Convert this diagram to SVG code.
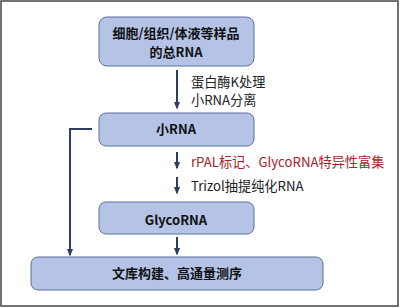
<svg xmlns="http://www.w3.org/2000/svg" width="400" height="308" viewBox="0 0 400 308">
<defs>
<style>
.box{fill:#b4c3e6;stroke:#5d6f96;stroke-width:1}
.t{font-family:"Noto Sans CJK SC","Noto Sans",sans-serif;font-size:13px;fill:#111;text-anchor:middle;font-weight:bold}
.l{font-family:"Noto Sans CJK SC","Noto Sans",sans-serif;font-size:13.2px;fill:#222}
.red{fill:#a82226}
.c{fill:none;stroke:#2f3c64;stroke-width:2}
</style>
<marker id="ah" viewBox="0 0 10 10" refX="8" refY="5" markerWidth="4" markerHeight="4" orient="auto" markerUnits="strokeWidth">
<path d="M0,1 L10,5 L0,9 z" fill="#2f3c64"/>
</marker>
</defs>
<rect x="0" y="0" width="400" height="308" fill="#fff"/>
<rect x="1" y="1" width="397" height="305" fill="none" stroke="#444" stroke-width="1.5"/>
<g id="connectors">
<line class="c" x1="177" y1="70" x2="177" y2="108" marker-end="url(#ah)"/>
<line class="c" x1="177" y1="152" x2="177" y2="168" marker-end="url(#ah)"/>
<line class="c" x1="177" y1="177" x2="177" y2="193" marker-end="url(#ah)"/>
<line class="c" x1="177" y1="237" x2="177" y2="254" marker-end="url(#ah)"/>
<polyline class="c" points="92,129 70,129 70,255" marker-end="url(#ah)"/>
<text class="l" x="191" y="87">蛋白酶K处理</text>
<text class="l" x="191" y="105">小RNA分离</text>
<text class="l red" x="191" y="167">rPAL标记、GlycoRNA特异性富集</text>
<text class="l" x="191" y="191">Trizol抽提纯化RNA</text>
</g>
<g id="n1">
<rect class="box" x="99" y="17" width="155" height="49" rx="8"/>
<text class="t" x="176" y="38">细胞/组织/体液等样品</text>
<text class="t" x="176" y="57">的总RNA</text>
</g>
<g id="n2">
<rect class="box" x="99" y="113" width="155" height="33" rx="7"/>
<text class="t" x="176" y="134">小RNA</text>
</g>
<g id="n3">
<rect class="box" x="99" y="202" width="155" height="32" rx="7"/>
<text class="t" x="176" y="225">GlycoRNA</text>
</g>
<g id="n4">
<rect class="box" x="31" y="257" width="292" height="33" rx="7"/>
<text class="t" x="177" y="278">文库构建、高通量测序</text>
</g>
</svg>
